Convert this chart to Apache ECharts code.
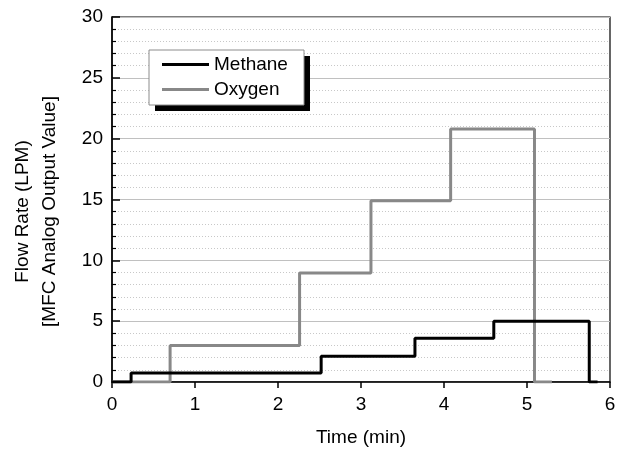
<!DOCTYPE html>
<html><head><meta charset="utf-8">
<script src="https://cdn.jsdelivr.net/npm/echarts@6/dist/echarts.min.js"></script>
<style>html,body{margin:0;padding:0;background:#fff}#c{width:623px;height:452px}</style>
</head><body><div id="c"></div>
<script>
const methaneTime = [0, 0.23, 2.52, 3.65, 4.6, 5.75, 5.85];
const methaneFlow = [0, 0.75, 2.12, 3.6, 5.0, 0, 0];
const oxygenTime = [0, 0.7, 2.26, 3.12, 4.08, 5.09, 5.3];
const oxygenFlow = [0, 3.0, 8.95, 14.9, 20.8, 0, 0];
const xTicks = [0, 1, 2, 3, 4, 5, 6];
const yTicks = [0, 5, 10, 15, 20, 25, 30];

const font = 'Arial, "Liberation Sans", sans-serif';
const chart = echarts.init(document.getElementById('c'));
chart.setOption({
  animation: false,
  grid: {left: 112, right: 13, top: 17, bottom: 69, show: true, borderColor: '#000', borderWidth: 1.2, backgroundColor: 'transparent'},
  graphic: [
    {type: 'rect', z: 50, shape: {x: 155, y: 56, width: 155, height: 55}, style: {fill: '#000'}},
    {type: 'rect', z: 51, shape: {x: 149, y: 50, width: 155, height: 55}, style: {fill: '#fff', stroke: '#8c8c8c', lineWidth: 1}}
  ],
  legend: {
    orient: 'vertical', left: 162, top: 55, z: 60,
    padding: 0, itemGap: 6,
    itemWidth: 47, itemHeight: 3,
    textStyle: {fontFamily: font, fontSize: 19, lineHeight: 19, color: '#000'},
    data: [{name: 'Methane', icon: 'rect'}, {name: 'Oxygen', icon: 'rect'}]
  },
  xAxis: {
    type: 'value', min: xTicks[0], max: xTicks[xTicks.length - 1], interval: 1,
    name: 'Time (min)', nameLocation: 'middle', nameGap: 46,
    nameTextStyle: {fontFamily: font, fontSize: 19, color: '#000'},
    axisLine: {show: true, lineStyle: {color: '#000', width: 1.5}},
    axisTick: {show: true, inside: false, length: 6, lineStyle: {color: '#000', width: 1.5}},
    axisLabel: {fontFamily: font, fontSize: 19, color: '#000', margin: 13},
    splitLine: {show: false}
  },
  yAxis: {
    type: 'value', min: yTicks[0], max: yTicks[yTicks.length - 1], interval: 5,
    name: 'Flow Rate (LPM)\n[MFC Analog Output Value]', nameLocation: 'middle', nameGap: 49, nameRotate: 90,
    nameTextStyle: {fontFamily: font, fontSize: 19, color: '#000', lineHeight: 27, padding: [0, 24, 0, 0]},
    axisLine: {show: true, lineStyle: {color: '#000', width: 1.5}},
    axisTick: {show: true, inside: true, length: 8, lineStyle: {color: '#000', width: 1.5}},
    minorTick: {show: true, splitNumber: 5, length: 4, lineStyle: {color: '#000', width: 1.2}},
    axisLabel: {fontFamily: font, fontSize: 19, color: '#000', margin: 9},
    splitLine: {show: true, lineStyle: {color: '#c0c0c0', width: 1}},
    minorSplitLine: {show: true, lineStyle: {color: '#c8c8c8', width: 1, type: [1, 2]}}
  },
  series: [
    {name: 'Methane', type: 'line', step: 'end', symbol: 'none', z: 3,
     lineStyle: {color: '#000', width: 3}, itemStyle: {color: '#000'},
     data: methaneTime.map((t, i) => [t, methaneFlow[i]])},
    {name: 'Oxygen', type: 'line', step: 'end', symbol: 'none', z: 2,
     lineStyle: {color: '#888', width: 3}, itemStyle: {color: '#888'},
     data: oxygenTime.map((t, i) => [t, oxygenFlow[i]])}
  ]
});
</script></body></html>
